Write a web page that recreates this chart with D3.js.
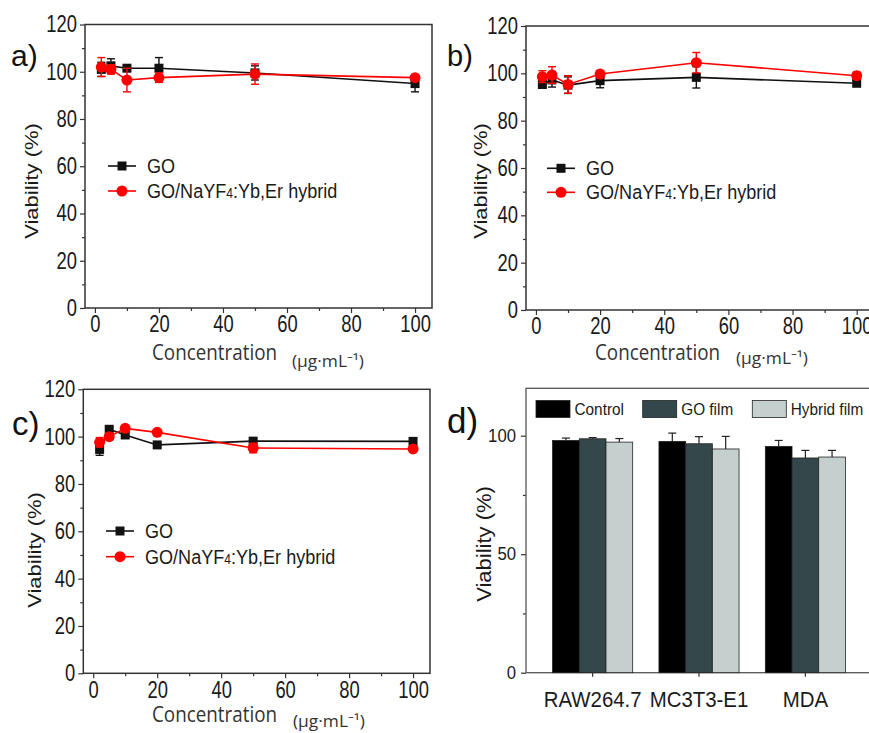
<!DOCTYPE html>
<html>
<head>
<meta charset="utf-8">
<script src="https://cdn.jsdelivr.net/npm/d3@7.9.0/dist/d3.min.js"></script>
<style>
  body { margin: 0; background: #fff; }
  svg { display: block; }
</style>
</head>
<body>
<svg id="fig" width="869" height="733"></svg>
<script>
// concentrations (µg/mL)
const conc = [2, 5, 10, 20, 50, 100];

// panel a
const goA = [101, 102.5, 101.5, 101.5, 99.5, 95];
const goAErr = [3, 3, 1, 4.5, 3, 3.5];
const hyA = [102, 101, 96.5, 97.5, 99, 97.5];
const hyAErr = [4, 2, 5, 2, 4.3, 1];

// panel b
const goB = [95.3, 97.2, 95, 96.9, 98.3, 95.8];
const goBErr = [1.5, 3, 3.5, 3, 4.5, 1];
const hyB = [98.6, 99.3, 95.3, 99.7, 104.5, 99];
const hyBErr = [2.5, 3.5, 3.7, 1.5, 4.3, 1.5];

// panel c
const goC = [94.6, 103.1, 100.7, 96.5, 98.1, 98];
const goCErr = [2.5, 1, 1, 1, 1, 1];
const hyC = [97.6, 100, 103.5, 101.8, 95.2, 94.8];
const hyCErr = [2, 1.5, 1, 1, 2, 1];

// panel d
const cells = ['RAW264.7', 'MC3T3-E1', 'MDA'];
const films = ['Control', 'GO film', 'Hybrid film'];
const control = [98, 97.6, 95.5];
const controlErr = [1, 3.5, 2.5];
const goFilm = [98.7, 96.6, 90.6];
const goFilmErr = [0.5, 3, 3.2];
const hybridFilm = [97.3, 94.4, 91];
const hybridFilmErr = [1.5, 5.3, 2.8];

const xTicks = [0, 20, 40, 60, 80, 100];
const xMinor = [10, 30, 50, 70, 90];
const yTicks = [0, 20, 40, 60, 80, 100, 120];
const yMinor = [10, 30, 50, 70, 90, 110];
const dTicks = [0, 50, 100];
const dMinor = [25, 75];

const SANS = '"Liberation Sans", Arial, sans-serif';
const OPEN = '"Open Sans", "Noto Sans", sans-serif';
const svg = d3.select('#fig');

function styleTicks(sel, size, sx, isLeft, off) {
  sel.select('.domain').remove();
  sel.selectAll('line').attr('stroke', '#333').attr('stroke-width', 1.2);
  sel.selectAll('text')
    .attr('font-family', SANS)
    .attr('font-size', size)
    .attr('fill', '#1a1a1a')
    .attr('transform', `scale(${sx},1)`);
  if (isLeft) sel.selectAll('text').attr('x', -off / sx);
}

function drawMarker(g, shape, cx, cy, color) {
  if (shape === 'square') {
    g.append('rect').attr('x', cx - 4.5).attr('y', cy - 4.5)
      .attr('width', 9).attr('height', 9).attr('fill', color);
  } else {
    g.append('circle').attr('cx', cx).attr('cy', cy).attr('r', 5.5).attr('fill', color);
  }
}

function linePanel(o) {
  const x = d3.scaleLinear().domain([-3.1, 105.3]).range([o.left, o.right]);
  const y = d3.scaleLinear().domain([0, 120]).range([o.bottom, o.top]);
  const g = svg.append('g');

  // axes
  g.append('g').attr('transform', `translate(0,${o.bottom})`)
    .call(d3.axisBottom(x).tickValues(xMinor).tickSize(3).tickFormat(''))
    .call(s => styleTicks(s, 23, 0.8));
  g.append('g').attr('transform', `translate(0,${o.bottom})`)
    .call(d3.axisBottom(x).tickValues(xTicks).tickSize(5).tickPadding(3))
    .call(s => styleTicks(s, 23, 0.8));
  g.append('g').attr('transform', `translate(${o.left},0)`)
    .call(d3.axisLeft(y).tickValues(yMinor).tickSize(3).tickFormat(''))
    .call(s => styleTicks(s, 23, 0.8));
  g.append('g').attr('transform', `translate(${o.left},0)`)
    .call(d3.axisLeft(y).tickValues(yTicks).tickSize(5).tickPadding(3))
    .call(s => styleTicks(s, 23, 0.8, true, 8));

  g.append('rect')
    .attr('x', o.left).attr('y', o.top)
    .attr('width', o.right - o.left).attr('height', o.bottom - o.top)
    .attr('fill', 'none').attr('stroke', '#333').attr('stroke-width', 1.5);

  const series = [
    { vals: o.go, errs: o.goErr, color: '#111', shape: 'square' },
    { vals: o.hy, errs: o.hyErr, color: '#f00', shape: 'circle' }
  ];

  series.forEach(s => {
    const pts = conc.map((c, i) => ({ c, v: s.vals[i], e: s.errs[i] }));
    g.append('path')
      .datum(pts)
      .attr('d', d3.line().x(d => x(d.c)).y(d => y(d.v)))
      .attr('fill', 'none').attr('stroke', s.color).attr('stroke-width', 1.6);

    const eb = g.append('g').attr('stroke', s.color).attr('stroke-width', 1.4);
    pts.forEach(d => {
      const cx = x(d.c);
      eb.append('line').attr('x1', cx).attr('x2', cx).attr('y1', y(d.v - d.e)).attr('y2', y(d.v + d.e));
      [d.v - d.e, d.v + d.e].forEach(v => {
        eb.append('line').attr('x1', cx - 4).attr('x2', cx + 4).attr('y1', y(v)).attr('y2', y(v));
      });
    });

    pts.forEach(d => drawMarker(g, s.shape, x(d.c), y(d.v), s.color));
  });

  // legend
  const lg = [
    { color: '#111', shape: 'square', y: o.legY[0], label: 'GO' },
    { color: '#f00', shape: 'circle', y: o.legY[1], label: 'hy' }
  ];
  lg.forEach(l => {
    g.append('line').attr('x1', o.legX).attr('x2', o.legX + 28)
      .attr('y1', l.y).attr('y2', l.y).attr('stroke', l.color).attr('stroke-width', 1.6);
    drawMarker(g, l.shape, o.legX + 14, l.y, l.color);
    const t = g.append('text')
      .attr('transform', `translate(${o.legX + 39},${l.y + 7}) scale(0.86,1)`)
      .attr('font-family', SANS).attr('font-size', 21).attr('fill', '#1a1a1a');
    if (l.label === 'GO') t.text('GO');
    else {
      t.append('tspan').text('GO/NaYF');
      t.append('tspan').attr('font-size', 14).text('4');
      t.append('tspan').text(':Yb,Er hybrid');
    }
  });

  // axis titles
  g.append('text')
    .attr('transform', `translate(${o.yLab[0]},${o.yLab[1]}) scale(0.82,1) rotate(-90)`)
    .attr('text-anchor', 'middle').attr('dy', '0.35em')
    .attr('font-family', SANS).attr('font-size', 22).attr('fill', '#1a1a1a')
    .text('Viability (%)');
  g.append('text')
    .attr('x', o.conc[0]).attr('y', o.conc[1])
    .attr('font-family', OPEN).attr('font-size', 21).attr('fill', '#333')
    .attr('textLength', 125).attr('lengthAdjust', 'spacingAndGlyphs')
    .text('Concentration');
  g.append('text')
    .attr('x', o.unit[0]).attr('y', o.unit[1])
    .attr('font-family', OPEN).attr('font-size', 16).attr('fill', '#333')
    .attr('textLength', 72).attr('lengthAdjust', 'spacingAndGlyphs')
    .text('(\u03bcg\u00b7mL\u207b\u00b9)');
  g.append('text')
    .attr('x', o.tag[0]).attr('y', o.tag[1])
    .attr('font-family', SANS).attr('font-size', o.tag[2]).attr('fill', '#111')
    .text(o.tag[3]);
}

linePanel({
  left: 85, right: 432, top: 24.5, bottom: 308,
  go: goA, goErr: goAErr, hy: hyA, hyErr: hyAErr,
  legX: 108, legY: [166, 191], yLab: [32, 181],
  conc: [152, 360], unit: [292, 367], tag: [11, 66, 30, 'a)']
});
linePanel({
  left: 526, right: 873.7, top: 26, bottom: 310,
  go: goB, goErr: goBErr, hy: hyB, hyErr: hyBErr,
  legX: 547, legY: [168.3, 192.3], yLab: [481, 181],
  conc: [595, 360], unit: [736, 364], tag: [447, 66, 29, 'b)']
});
linePanel({
  left: 83.3, right: 430, top: 389.3, bottom: 673.3,
  go: goC, goErr: goCErr, hy: hyC, hyErr: hyCErr,
  legX: 106, legY: [531, 556.7], yLab: [35, 550],
  conc: [152, 721.7], unit: [293, 727], tag: [12, 435, 33, 'c)']
});

// ---- panel d: bars ----
(function () {
  const left = 526, right = 872, top = 388.3, bottom = 672.7;
  const sx = 0.93;
  const colors = ['#000000', '#34474a', '#c5cfcd'];
  const vals = [control, goFilm, hybridFilm];
  const errs = [controlErr, goFilmErr, hybridFilmErr];

  const x0 = d3.scaleBand().domain(cells).range([left, right]).paddingInner(0.247).paddingOuter(0.25);
  const x1 = d3.scaleBand().domain(films).range([0, x0.bandwidth()]);
  const y = d3.scaleLinear().domain([0, 120]).range([bottom, top]);
  const g = svg.append('g');

  g.append('g').attr('transform', `translate(${left},0)`)
    .call(d3.axisLeft(y).tickValues(dMinor).tickSize(3).tickFormat(''))
    .call(s => styleTicks(s, 18, sx));
  g.append('g').attr('transform', `translate(${left},0)`)
    .call(d3.axisLeft(y).tickValues(dTicks).tickSize(5).tickPadding(5))
    .call(s => styleTicks(s, 18, sx, true, 10));
  g.append('g').attr('transform', `translate(0,${bottom})`)
    .call(d3.axisBottom(x0).tickSize(4).tickPadding(15))
    .call(s => styleTicks(s, 21.5, 0.95));

  g.append('rect')
    .attr('x', left).attr('y', top)
    .attr('width', right - left).attr('height', bottom - top)
    .attr('fill', 'none').attr('stroke', '#555').attr('stroke-width', 1.3);

  cells.forEach((c, i) => {
    films.forEach((f, j) => {
      const bx = x0(c) + x1(f);
      const v = vals[j][i];
      const e = errs[j][i];
      const cx = bx + x1.bandwidth() / 2;
      g.append('line').attr('x1', cx).attr('x2', cx).attr('y1', y(v)).attr('y2', y(v + e))
        .attr('stroke', '#222').attr('stroke-width', 1.2);
      g.append('line').attr('x1', cx - 4).attr('x2', cx + 4).attr('y1', y(v + e)).attr('y2', y(v + e))
        .attr('stroke', '#222').attr('stroke-width', 1.2);
      g.append('rect')
        .attr('x', bx).attr('y', y(v))
        .attr('width', x1.bandwidth()).attr('height', y(0) - y(v))
        .attr('fill', colors[j]).attr('stroke', '#222').attr('stroke-width', 0.8);
    });
  });

  // legend
  const legX = [536, 642.7, 752.3];
  films.forEach((f, j) => {
    g.append('rect').attr('x', legX[j]).attr('y', 400.5)
      .attr('width', 34).attr('height', 17)
      .attr('fill', colors[j]).attr('stroke', '#222').attr('stroke-width', 0.8);
    g.append('text')
      .attr('transform', `translate(${legX[j] + 38.5},415) scale(${sx},1)`)
      .attr('font-family', SANS).attr('font-size', 16.5).attr('fill', '#1a1a1a')
      .text(f);
  });

  g.append('text')
    .attr('transform', `translate(484,544) scale(${sx},1) rotate(-90)`)
    .attr('text-anchor', 'middle').attr('dy', '0.35em')
    .attr('font-family', SANS).attr('font-size', 22).attr('fill', '#1a1a1a')
    .text('Viability (%)');
  g.append('text')
    .attr('x', 447).attr('y', 433)
    .attr('font-family', SANS).attr('font-size', 35).attr('fill', '#111')
    .text('d)');
})();
</script>
</body>
</html>
